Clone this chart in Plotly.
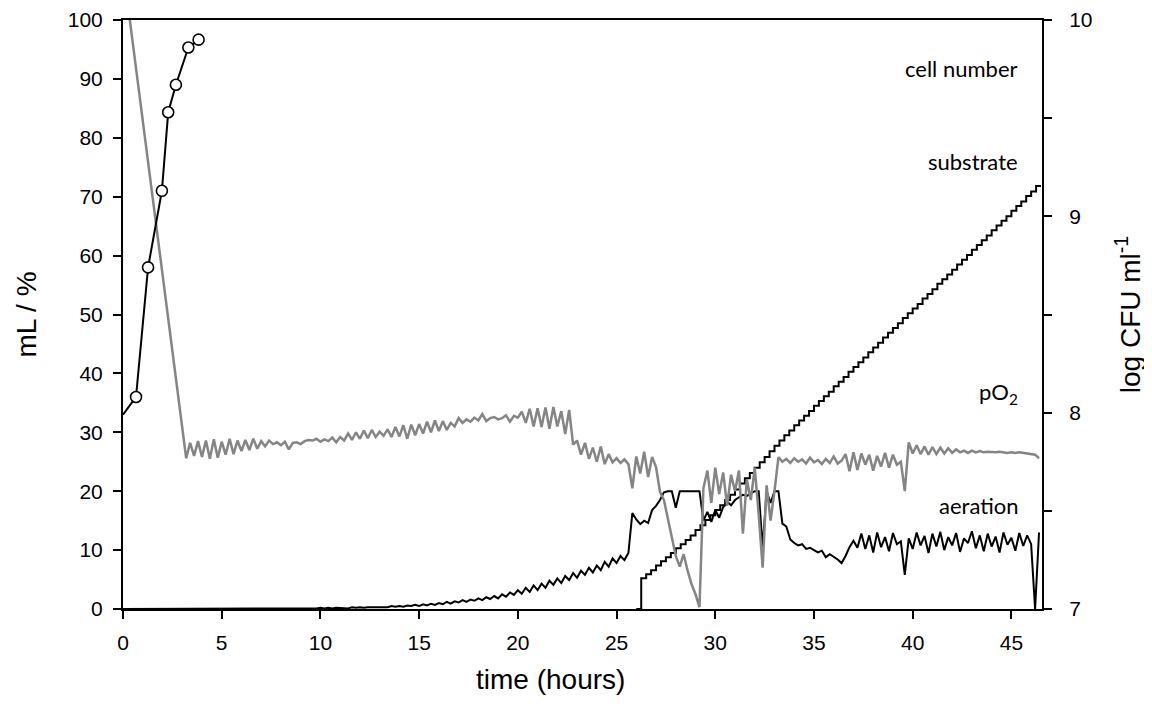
import numpy as np
import plotly.graph_objects as go

# ---------------- data ----------------
# pO2 (%), left axis: first the initial point, then samples every 0.2 h from 3.2 h
PO2_START_T = [0.0]
PO2_START_V = [109.0]
PO2_T0 = 3.2
PO2_DT = 0.2
PO2_VALUES = [
    25.6, 28.2, 26.0, 28.5, 25.8, 28.6, 25.5, 28.8, 25.7, 28.4,   # 3.2 - 5.0
    26.2, 28.9, 26.3, 28.6, 26.8, 28.7, 27.0, 28.9, 27.2, 28.5,   # 5.2 - 7.0
    27.6, 28.6, 28.0, 28.3, 27.8, 28.4, 27.1, 28.2, 28.3, 28.0,   # 7.2 - 9.0
    28.5, 28.7, 28.6, 28.9, 28.4, 28.8, 28.5, 29.1, 28.3, 29.2,   # 9.2 - 11.0
    28.6, 29.8, 28.7, 30.0, 28.9, 30.3, 29.0, 30.4, 29.2, 30.1,   # 11.2 - 13.0
    29.4, 30.5, 29.2, 30.9, 29.3, 31.2, 28.9, 31.3, 29.5, 31.4,   # 13.2 - 15.0
    29.8, 31.8, 30.0, 32.0, 30.2, 31.9, 30.4, 31.6, 31.0, 32.4,   # 15.2 - 17.0
    31.6, 32.2, 31.8, 32.5, 32.0, 33.1, 31.9, 32.4, 32.6, 32.2,   # 17.2 - 19.0
    32.4, 32.9, 31.8, 32.8, 32.5, 33.5, 31.6, 34.0, 31.0, 34.1,   # 19.2 - 21.0
    30.9, 34.2, 30.6, 34.3, 31.0, 33.6, 29.7, 33.8, 27.9, 28.6,   # 21.2 - 23.0
    26.2, 28.2, 25.5, 27.4, 25.0, 27.6, 24.6, 26.3, 24.9, 25.6,   # 23.2 - 25.0
    24.8, 25.4, 24.6, 20.5, 25.9, 23.0, 26.7, 22.4, 25.8, 24.1,   # 25.2 - 27.0
    19.9, 18.5, 15.2, 12.2, 9.0, 7.2, 9.3, 6.5, 4.2, 2.5,         # 27.2 - 29.0
    0.3, 20.5, 23.5, 18.0, 24.0, 19.5, 23.2, 17.5, 22.8, 20.0,    # 29.2 - 31.0
    23.5, 12.8, 22.0, 18.5, 24.0, 16.0, 7.0, 21.0, 15.0, 20.0,    # 31.2 - 33.0
    25.8, 25.0, 25.5, 24.8, 25.6, 25.0, 25.4, 24.7, 25.7, 24.9,   # 33.2 - 35.0
    25.3, 24.6, 25.5, 24.8, 25.9, 24.7, 25.2, 26.3, 23.4, 26.6,   # 35.2 - 37.0
    23.6, 26.4, 24.5, 26.2, 23.5, 26.0, 24.2, 26.5, 24.0, 26.2,   # 37.2 - 39.0
    24.5, 25.0, 20.0, 28.3, 26.4, 27.8, 26.3, 27.6, 26.2, 27.5,   # 39.2 - 41.0
    26.3, 27.4, 26.4, 27.3, 26.5, 27.1, 26.6, 26.9, 26.5, 26.9,   # 41.2 - 43.0
    26.6, 26.8, 26.6, 26.7, 26.6, 26.6, 26.7, 26.6, 26.5, 26.6,   # 43.2 - 45.0
    26.5, 26.6, 26.5, 26.5, 26.4, 26.2, 25.6,                     # 45.2 - 46.4
]

# aeration, left axis: samples every 0.2 h from 0 h
AER_T0 = 0.0
AER_DT = 0.2
AER_VALUES = [
    0.0, 0.0, 0.0, 0.0, 0.0, 0.0, 0.0, 0.0, 0.0, 0.0,            # 0.0 - 1.8
    0.0, 0.0, 0.0, 0.0, 0.0, 0.0, 0.0, 0.0, 0.0, 0.0,            # 2.0 - 3.8
    0.1, 0.0, 0.1, 0.0, 0.1, 0.0, 0.1, 0.0, 0.1, 0.0,            # 4.0 - 5.8
    0.1, 0.0, 0.1, 0.0, 0.1, 0.0, 0.1, 0.0, 0.1, 0.0,            # 6.0 - 7.8
    0.1, 0.0, 0.1, 0.1, 0.1, 0.0, 0.1, 0.1, 0.1, 0.1,            # 8.0 - 9.8
    0.2, 0.1, 0.2, 0.1, 0.2, 0.2, 0.2, 0.1, 0.3, 0.2,            # 10.0 - 11.8
    0.3, 0.2, 0.3, 0.3, 0.4, 0.3, 0.4, 0.3, 0.5, 0.4,            # 12.0 - 13.8
    0.5, 0.4, 0.6, 0.5, 0.7, 0.5, 0.8, 0.6, 0.9, 0.7,            # 14.0 - 15.8
    1.0, 0.8, 1.2, 0.9, 1.3, 1.1, 1.5, 1.2, 1.6, 1.4,            # 16.0 - 17.8
    1.8, 1.5, 2.0, 1.7, 2.2, 1.8, 2.5, 2.1, 2.8, 2.4,            # 18.0 - 19.8
    3.2, 2.6, 3.6, 2.9, 4.0, 3.2, 4.3, 3.6, 4.8, 4.1,            # 20.0 - 21.8
    5.2, 4.4, 5.6, 4.9, 6.1, 5.3, 6.5, 5.8, 7.0, 6.2,            # 22.0 - 23.8
    7.4, 6.6, 8.0, 7.2, 8.6, 7.8, 9.0, 8.3, 9.5, 16.3,           # 24.0 - 25.8
    15.2, 14.4, 15.0, 14.6, 16.8, 17.5, 18.5, 19.8, 20.0, 20.0,  # 26.0 - 27.8
    17.2, 20.0, 20.0, 20.0, 20.0, 20.0, 20.0, 15.0, 16.5, 14.8,  # 28.0 - 29.8
    16.8, 15.5, 17.3, 18.2, 17.6, 18.5, 19.0, 19.4, 19.2, 19.6,  # 30.0 - 31.8
    20.0, 20.0, 10.4, 20.0, 18.0, 20.0, 20.0, 14.5, 14.0, 11.8,  # 32.0 - 33.8
    11.2, 10.8, 11.0, 10.2, 10.4, 10.0, 9.6, 9.9, 8.8, 9.3,      # 34.0 - 35.8
    8.9, 8.4, 7.8, 9.0, 10.5, 11.6, 10.4, 12.8, 10.2, 12.5,      # 36.0 - 37.8
    9.6, 13.0, 10.5, 12.2, 9.8, 12.9, 11.0, 11.5, 5.8, 12.0,     # 38.0 - 39.8
    10.2, 13.0, 10.8, 12.4, 9.5, 12.8, 10.6, 13.1, 10.0, 12.2,   # 40.0 - 41.8
    10.8, 12.9, 9.7, 12.0, 11.2, 13.2, 10.3, 12.5, 9.8, 12.8,    # 42.0 - 43.8
    10.6, 12.3, 9.6, 13.0, 10.9, 12.1, 9.9, 12.9, 10.7, 12.5,    # 44.0 - 45.8
    11.0, 0.0, 13.0,                                             # 46.0 - 46.4
]

# substrate (mL), left axis: samples every 0.25 h from 26 h
SUB_T0 = 26.0
SUB_DT = 0.25
SUB_VALUES = [
    0.0, 5.2, 5.9, 6.6, 7.4, 8.1, 8.8, 9.5,            # 26.0 - 27.75
    10.3, 11.0, 11.7, 12.5, 13.4, 14.2, 15.1, 15.9,    # 28.0 - 29.75
    16.8, 17.6, 18.5, 19.4, 20.3, 21.3, 22.2, 23.1,    # 30.0 - 31.75
    24.0, 24.9, 25.8, 26.8, 27.7, 28.6, 29.5, 30.3,    # 32.0 - 33.75
    31.2, 32.0, 32.8, 33.6, 34.5, 35.3, 36.1, 36.9,    # 34.0 - 35.75
    37.8, 38.6, 39.4, 40.3, 41.1, 41.9, 42.7, 43.6,    # 36.0 - 37.75
    44.4, 45.2, 46.1, 46.9, 47.7, 48.5, 49.4, 50.2,    # 38.0 - 39.75
    51.0, 51.8, 52.7, 53.5, 54.3, 55.2, 56.0, 56.8,    # 40.0 - 41.75
    57.6, 58.5, 59.3, 60.1, 61.0, 61.8, 62.6, 63.4,    # 42.0 - 43.75
    64.3, 65.1, 65.9, 66.7, 67.6, 68.4, 69.2, 70.1,    # 44.0 - 45.75
    70.9, 71.8, 71.8,                                  # 46.0 - 46.5
]

# cell number (log CFU/ml), right axis
CELL_T = [0.0, 0.66, 1.27, 1.97, 2.29, 2.68, 3.31, 3.83]
CELL_LOG = [7.99, 8.08, 8.74, 9.13, 9.53, 9.67, 9.86, 9.90]

X_RANGE = [0, 46.55]
Y_RANGE = [0, 100]
Y2_RANGE = [7, 10]

SERIES_LABELS = ["cell number", "substrate", "pO<sub>2</sub>", "aeration"]
LABEL_X = [45.45, 45.45, 45.45, 45.45]
LABEL_Y = [91.8, 76.0, 36.6, 17.5]

X_TITLE = "time (hours)"

# ---------------- build ----------------
po2_t = PO2_START_T + list(PO2_T0 + PO2_DT * np.arange(len(PO2_VALUES)))
po2_v = PO2_START_V + PO2_VALUES
aer_t = AER_T0 + AER_DT * np.arange(len(AER_VALUES))
sub_t = SUB_T0 + SUB_DT * np.arange(len(SUB_VALUES))

GRAY = "#858585"
BLACK = "#000000"
TICK_FONT = dict(family="Liberation Sans, Arial, sans-serif", size=21, color="black")
TITLE_FONT = dict(family="Liberation Sans, Arial, sans-serif", size=28, color="black")
LABEL_FONT = dict(family="Lato, Carlito, Calibri, sans-serif", size=22, color="black")

fig = go.Figure()
fig.add_trace(go.Scatter(x=aer_t, y=AER_VALUES, mode="lines",
                         line=dict(color=BLACK, width=2), name="aeration"))
fig.add_trace(go.Scatter(x=sub_t, y=SUB_VALUES, mode="lines",
                         line=dict(color=BLACK, width=2, shape="hv"), name="substrate"))
fig.add_trace(go.Scatter(x=po2_t, y=po2_v, mode="lines",
                         line=dict(color=GRAY, width=2.5), name="pO2"))
fig.add_trace(go.Scatter(x=CELL_T, y=CELL_LOG, mode="lines", yaxis="y2",
                         line=dict(color=BLACK, width=2), name="cell number"))
fig.add_trace(go.Scatter(x=CELL_T[1:], y=CELL_LOG[1:], mode="markers", yaxis="y2",
                         marker=dict(size=11, color="white",
                                     line=dict(color=BLACK, width=1.6)),
                         cliponaxis=False, name="cell number points"))

for txt, lx, ly in zip(SERIES_LABELS, LABEL_X, LABEL_Y):
    fig.add_annotation(x=lx, y=ly, text=txt, showarrow=False,
                       xanchor="right", yanchor="middle", font=LABEL_FONT)

# x-axis title (placed slightly left of the plot centre, as in the reference)
fig.add_annotation(x=0.465, y=-0.1205, xref="paper", yref="paper", text=X_TITLE,
                   showarrow=False, xanchor="center", yanchor="middle",
                   font=TITLE_FONT)

fig.update_layout(
    width=1152, height=719,
    margin=dict(l=115, r=118, t=12, b=118, autoexpand=False),
    paper_bgcolor="white", plot_bgcolor="white",
    showlegend=False,
    xaxis=dict(range=X_RANGE, tickmode="array", tickvals=list(range(0, 50, 5)),
               automargin=False,
               showgrid=False, zeroline=False, showline=True, linecolor="black",
               linewidth=2, mirror=True, ticks="outside", ticklen=8, tickwidth=1.5,
               tickcolor="black", tickfont=TICK_FONT, ticklabelstandoff=6),
    yaxis=dict(range=Y_RANGE, dtick=10, showgrid=False, zeroline=False,
               automargin=False,
               showline=True, linecolor="black", linewidth=2, ticks="outside",
               ticklen=8, tickwidth=1.5, tickcolor="black", tickfont=TICK_FONT,
               ticklabelstandoff=6,
               title=dict(text="mL / %", font=TITLE_FONT, standoff=23)),
    yaxis2=dict(range=Y2_RANGE, dtick=1, overlaying="y", side="right",
                automargin=False,
                showgrid=False, zeroline=False, showline=True, linecolor="black",
                linewidth=2, ticks="outside", ticklen=8, tickwidth=1.5,
                tickcolor="black", tickfont=TICK_FONT, ticklabelstandoff=13,
                minor=dict(dtick=0.5, ticks="outside", ticklen=8, tickwidth=1.5,
                           tickcolor="black"),
                title=dict(text="log CFU ml<sup>-1</sup>", font=TITLE_FONT, standoff=29)),
)

fig.write_html("out.html")
